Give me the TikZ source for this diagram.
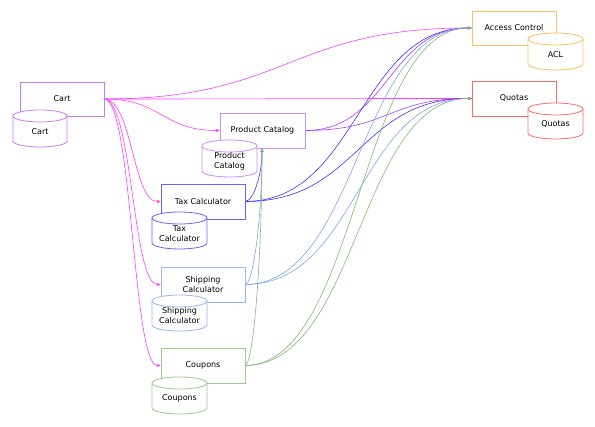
\documentclass[tikz,border=0pt]{standalone}
\usepackage{fontspec}
\setmainfont{DejaVu Sans}
\usetikzlibrary{arrows.meta,calc}
\definecolor{cartbox}{HTML}{C97BF5}
\definecolor{cartedge}{HTML}{FF3DFF}
\definecolor{pcbox}{HTML}{D08CF8}
\definecolor{pcedge}{HTML}{A83CFF}
\definecolor{taxcol}{HTML}{6C63FF}
\definecolor{taxedge}{HTML}{4A2CF5}
\definecolor{shipbox}{HTML}{9DB8EC}
\definecolor{shipedge}{HTML}{7FA4EA}
\definecolor{coupbox}{HTML}{9CCB8C}
\definecolor{coupedge}{HTML}{82B874}
\definecolor{acbox}{HTML}{FFBF5E}
\definecolor{qbox}{HTML}{FF6B6B}
\tikzset{
  svc/.style={draw=#1, fill=white, line width=0.8pt, minimum width=84pt, minimum height=34pt, inner sep=0pt, outer sep=0pt, font=\fontsize{8}{9.5}\selectfont},
  dbtext/.style={font=\fontsize{8}{10}\selectfont, align=center, inner sep=0pt},
  dbshape/.style={draw=#1, fill=white, line width=0.8pt},
  conn/.style={draw=#1, line width=0.6pt, -{Latex[length=4pt,width=3.2pt]}},
  hlink/.style={to path={let \p1=(\tikztostart), \p2=(\tikztotarget), \n1={(\x1+\x2)/2} in
     .. controls (\n1,\y1) and (\n1,\y2) .. (\tikztotarget) \tikztonodes}},
  vlink/.style={to path={let \p1=(\tikztostart), \p2=(\tikztotarget), \n1={(\x1+\x2)/2}, \n2={(\y1+\y2)/2} in
     .. controls (\n1,\y1) and (\x2,\n2) .. (\tikztotarget) \tikztonodes}},
}
\newcommand\dbcyl[7]{% name, cx, cy, w, h, color, text
  \path[dbshape=#6] ({#2-#4/2},{#3+#5/2-6}) -- ({#2-#4/2},{#3-#5/2+6})
    arc[start angle=180, end angle=360, x radius={#4/2}, y radius=6]
    -- ({#2+#4/2},{#3+#5/2-6})
    arc[start angle=0, end angle=180, x radius={#4/2}, y radius=6] -- cycle;
  \draw[draw=#6, line width=0.8pt] ({#2-#4/2},{#3+#5/2-6})
    arc[start angle=180, end angle=360, x radius={#4/2}, y radius=6];
  \node[dbtext] (#1) at (#2,{#3-3}) {#7};
}
\begin{document}
\begin{tikzpicture}[x=1pt,y=1pt]
\useasboundingbox (0,0) rectangle (595,427);
% connection points of the boxes (boxes drawn later above edges)
\coordinate (cartE) at (104,328);
\coordinate (pcW) at (220,296.5);
\coordinate (pcE) at (305,296.5);
\coordinate (pcS) at (262,279);
\coordinate (taxW) at (161,225.5);
\coordinate (taxE) at (245,225.5);
\coordinate (shipW) at (161,142.5);
\coordinate (shipE) at (245,142.5);
\coordinate (coupW) at (161,61.5);
\coordinate (coupE) at (245,61.5);
\coordinate (acW) at (472,399);
\coordinate (qW) at (472,328.5);
% edges
\draw[conn=cartedge] (cartE) to[hlink] (acW);
\draw[conn=cartedge] (cartE) to[hlink] (qW);
\draw[conn=cartedge] (cartE) to[hlink] (pcW);
\draw[conn=cartedge] (cartE) to[hlink] (taxW);
\draw[conn=cartedge] (cartE) to[hlink] (shipW);
\draw[conn=cartedge] (cartE) to[hlink] (coupW);
\draw[conn=pcedge] (pcE) to[hlink] (acW);
\draw[conn=pcedge] (pcE) to[hlink] (qW);
\draw[conn=taxedge] (taxE) to[vlink] (pcS);
\draw[conn=taxedge] (taxE) to[hlink] (acW);
\draw[conn=taxedge] (taxE) to[hlink] (qW);
\draw[conn=shipedge] (shipE) to[vlink] (pcS);
\draw[conn=shipedge] (shipE) to[hlink] (acW);
\draw[conn=shipedge] (shipE) to[hlink] (qW);
\draw[conn=coupedge] (coupE) to[vlink] (pcS);
\draw[conn=coupedge] (coupE) to[hlink] (acW);
\draw[conn=coupedge] (coupE) to[hlink] (qW);
% boxes
\node[svc=cartbox] (cart) at (62,328) {Cart};
\node[svc=pcbox, minimum width=85pt, minimum height=35pt] (pc) at (262.5,296.5) {Product Catalog};
\node[svc=taxcol, minimum height=35pt, line width=0.9pt] (tax) at (203,225.5) {Tax Calculator};
\node[svc=shipbox, minimum height=35pt, align=center] (ship) at (203,142.5) {Shipping\\Calculator};
\node[svc=coupbox, minimum height=35pt] (coup) at (203,61.5) {Coupons};
\node[svc=acbox] (ac) at (514,399) {Access Control};
\node[svc=qbox, minimum height=35pt] (q) at (514,328.5) {Quotas};
% cylinders
\dbcyl{cartdb}{40}{298.5}{54}{37}{cartbox}{Cart}
\dbcyl{pcdb}{229.5}{268.5}{55}{37}{pcbox}{Product\\Catalog}
\dbcyl{taxdb}{179.5}{196.5}{55}{37}{taxcol}{Tax\\Calculator}
\dbcyl{shipdb}{179.5}{114}{55}{36}{shipbox}{Shipping\\Calculator}
\dbcyl{coupdb}{179.5}{31.5}{55}{37}{coupbox}{Coupons}
\dbcyl{acldb}{555.5}{375.5}{55}{37}{acbox}{ACL}
\dbcyl{qdb}{555.5}{306}{55}{36}{qbox}{Quotas}
\end{tikzpicture}
\end{document}
